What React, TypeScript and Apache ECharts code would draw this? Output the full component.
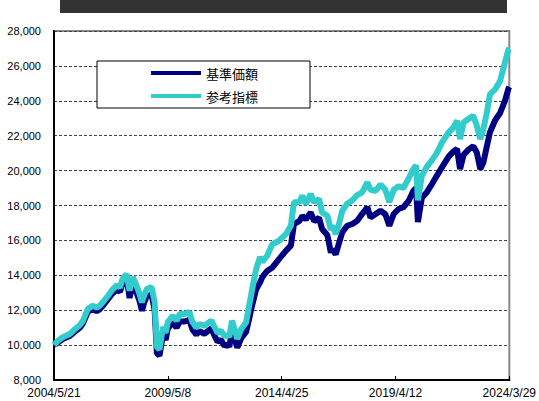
import React, { useEffect, useRef } from "react";
import * as echarts from "echarts";

// week index since 2004/5/21 (weekly data, 1036 weeks to 2024/3/29)
const weeks = [
  0, 9, 20, 36, 48, 59, 66, 77, 88, 97, 104, 111, 122, 131, 143, 150, 156, 165, 172, 179,
  188, 195, 200, 206, 211, 222, 229, 234, 240, 248, 254, 259, 270, 279, 286, 297, 308, 315, 324, 331,
  342, 358, 365, 372, 380, 388, 394, 399, 405, 413, 417, 426, 437, 444, 451, 460, 469, 474, 485, 497,
  512, 528, 539, 546, 558, 565, 573, 584, 592, 603, 610, 622, 630, 633, 641, 648, 656, 667, 679, 690,
  701, 713, 720, 732, 743, 754, 763, 773, 784, 795, 807, 818, 824, 828, 837, 848, 860, 871, 883, 898,
  909, 917, 924, 932, 943, 954, 962, 970, 977, 985, 992, 1004, 1015, 1026, 1034, 1036,
];

// 基準価額 (fund NAV)
const baseValues = [
  10000, 10150, 10350, 10520, 10780, 11000, 11250, 11900, 12080, 11950, 12050, 12250, 12600, 12900, 13200, 13050, 13550, 13900, 12700, 13600,
  13000, 12500, 11970, 12500, 12800, 12900, 12000, 9550, 9390, 10600, 10300, 10950, 11300, 11000, 11350, 11350, 11450, 10900, 10600, 10800,
  10650, 10950, 10550, 10200, 10300, 9950, 10050, 9900, 10900, 10200, 9850, 10400, 10750, 11500, 12300, 13200, 13600, 13900, 14250, 14450,
  14930, 15410, 15700, 16940, 17100, 17400, 17200, 17600, 17100, 17300, 16650, 16300, 15300, 15500, 15200, 15800, 16470, 16840, 16940, 17130,
  17510, 17900, 17320, 17510, 17700, 17500, 16840, 17510, 17800, 17900, 18270, 18850, 19000, 17050, 18450, 18750, 19230, 19700, 20200, 20800,
  21100, 21240, 20090, 20900, 21200, 21400, 21040, 20090, 20470, 21400, 22200, 22900, 23300, 24000, 24700, 24800,
];

// 参考指標 (reference index)
const indexValues = [
  10000, 10250, 10450, 10640, 10920, 11150, 11400, 12070, 12260, 12150, 12250, 12450, 12800, 13120, 13440, 13300, 13790, 14070, 13120, 13900,
  13400, 12900, 12450, 12900, 13210, 13330, 12470, 9900, 9750, 11040, 10700, 11320, 11680, 11400, 11780, 11780, 11900, 11320, 11000, 11210,
  11110, 11400, 11040, 10700, 10830, 10500, 10600, 10460, 11400, 10740, 10350, 10920, 11300, 12260, 13210, 14360, 15050, 14760, 15120, 15790,
  15980, 16370, 16840, 18180, 18180, 18560, 18080, 18660, 18180, 18370, 17600, 17410, 16600, 16840, 16370, 16900, 17700, 18100, 18300, 18600,
  18750, 19320, 18900, 18850, 19200, 18900, 18200, 18900, 19100, 19000, 19550, 20100, 20300, 18300, 19700, 20200, 20600, 21000, 21620, 22190,
  22480, 22860, 21810, 22760, 22960, 23150, 22570, 21810, 22380, 23340, 24370, 24670, 25140, 26190, 26940, 27000,
];

const xTickWeeks = [0, 259, 518, 777, 1036];
const xTickLabels = ["2004/5/21", "2009/5/8", "2014/4/25", "2019/4/12", "2024/3/29"];

const seriesNames = ["基準価額", "参考指標"];

export default function App() {
  const ref = useRef<HTMLDivElement>(null);

  useEffect(() => {
    if (!ref.current) return;
    const chart = echarts.init(ref.current, null, { renderer: "svg" });
    const labelFor = (v: number) => {
      const i = xTickWeeks.indexOf(Math.round(v));
      return i >= 0 ? xTickLabels[i] : "";
    };
    chart.setOption({
      animation: false,
      backgroundColor: "#ffffff",
      graphic: [
        {
          type: "rect",
          shape: { x: 60, y: 0, width: 447, height: 13 },
          style: { fill: "#333333" },
          silent: true,
        },
      ],
      grid: {
        left: 54,
        right: 28,
        top: 31,
        bottom: 21,
        show: true,
        borderColor: "#888888",
        borderWidth: 2,
        backgroundColor: "transparent",
      },
      legend: {
        data: seriesNames,
        orient: "vertical",
        left: 97,
        top: 61,
        padding: [5, 52, 5, 54],
        itemGap: 9,
        itemWidth: 50,
        itemHeight: 4,
        icon: "rect",
        backgroundColor: "#ffffff",
        borderColor: "#000000",
        borderWidth: 1,
        textStyle: {
          fontFamily: "Noto Sans CJK JP",
          fontSize: 13,
          lineHeight: 14,
          color: "#000000",
        },
      },
      xAxis: {
        type: "value",
        min: 0,
        max: 1036,
        interval: 259,
        axisLine: { show: true, lineStyle: { color: "#000000", width: 2 } },
        axisTick: { show: true, inside: true, length: 4, lineStyle: { color: "#000000", width: 1 } },
        splitLine: { show: false },
        axisLabel: {
          formatter: labelFor,
          showMinLabel: true,
          showMaxLabel: true,
          fontFamily: "Liberation Sans",
          fontSize: 12,
          lineHeight: 12,
          color: "#000000",
          margin: 7,
        },
      },
      yAxis: {
        type: "value",
        min: 8000,
        max: 28000,
        interval: 2000,
        axisLine: { show: true, lineStyle: { color: "#000000", width: 2 } },
        axisTick: { show: false },
        splitLine: { show: true, lineStyle: { color: "#444444", width: 1, type: [3, 2] } },
        axisLabel: {
          formatter: (v: number) => v.toLocaleString("en-US"),
          fontFamily: "Liberation Sans",
          fontSize: 11,
          lineHeight: 11,
          color: "#000000",
          margin: 13,
        },
      },
      series: [
        {
          name: seriesNames[0],
          type: "line",
          data: weeks.map((w, i) => [w, baseValues[i]]),
          symbol: "none",
          showSymbol: false,
          lineStyle: { color: "#000080", width: 6 },
          itemStyle: { color: "#000080" },
          z: 2,
        },
        {
          name: seriesNames[1],
          type: "line",
          data: weeks.map((w, i) => [w, indexValues[i]]),
          symbol: "none",
          showSymbol: false,
          lineStyle: { color: "#33CCCC", width: 6 },
          itemStyle: { color: "#33CCCC" },
          z: 3,
        },
      ],
    });
    return () => chart.dispose();
  }, []);

  return (
    <div
      ref={ref}
      style={{ position: "fixed", left: 0, top: 0, width: 539, height: 401 }}
    />
  );
}
